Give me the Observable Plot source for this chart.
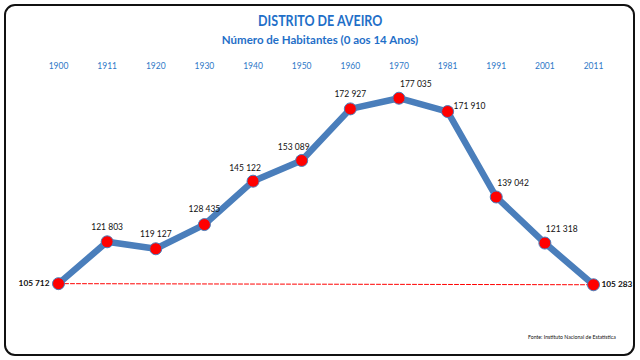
<!DOCTYPE html>
<html>
<head>
<meta charset="utf-8">
<script src="https://cdn.jsdelivr.net/npm/d3@7"></script>
<script src="https://cdn.jsdelivr.net/npm/@observablehq/plot@0.6"></script>
<style>
  html, body { margin: 0; padding: 0; background: #fff; }
  #wrap { position: relative; width: 640px; height: 360px; overflow: hidden; font-family: Lato, "Open Sans", sans-serif; }
  #frame { position: absolute; left: 4px; top: 4px; width: 627px; height: 348px; border: 2px solid #111; border-radius: 11px; box-sizing: content-box; }
  #title { position: absolute; left: 0; width: 640px; top: 12px; text-align: center; color: #1F6FC8; font-weight: bold; font-size: 14.5px; line-height: 18px; }
  #title span { display: inline-block; transform: scaleX(0.86); }
  #subtitle { position: absolute; left: 0; width: 640px; top: 32px; text-align: center; color: #1F6FC8; font-weight: bold; font-size: 11.5px; line-height: 16px; }
  #chart { position: absolute; left: 0; top: 50px; }
  #source { position: absolute; left: 528px; top: 334px; font-size: 5.2px; color: #111; white-space: nowrap; }
</style>
</head>
<body>
<div id="wrap">
  <div id="frame"></div>
  <div id="title"><span>DISTRITO DE AVEIRO</span></div>
  <div id="subtitle">Número de Habitantes (0 aos 14 Anos)</div>
  <div id="chart"></div>
  <div id="source">Fonte: Instituto Nacional de Estatística</div>
</div>
<script>
const years = ["1900","1911","1920","1930","1940","1950","1960","1970","1981","1991","2001","2011"];
const habitantes = [105712, 121803, 119127, 128435, 145122, 153089, 172927, 177035, 171910, 139042, 121318, 105283];

const data = years.map((y, i) => ({year: y, value: habitantes[i]}));
const fmt = v => d3.format(",")(v).replace(/,/g, " ");
const first = data[0], last = data[data.length - 1];
const pick = ys => data.filter(d => ys.includes(d.year));

const lineColor = "#4A7EBB";

const chart = Plot.plot({
  width: 640,
  height: 310,
  marginLeft: 58,
  marginRight: 47,
  marginTop: 40,
  marginBottom: 62,
  style: {fontFamily: "Lato, 'Open Sans', sans-serif", background: "transparent", overflow: "visible"},
  x: {type: "point", domain: years, padding: 0, round: false},
  y: {domain: [100000, 180000], axis: null},
  marks: [
    Plot.axisX({anchor: "top", tickSize: 0, tickPadding: 22, fill: "#2E78C7", fontSize: 8.5, label: null}),
    Plot.line(data, {x: "year", y: "value", stroke: lineColor, strokeWidth: 6.5, strokeLinejoin: "miter"}),
    Plot.line([first, last], {x: "year", y: "value", stroke: "#FF0000", strokeWidth: 1, strokeDasharray: "4,2"}),
    Plot.dot(data, {x: "year", y: "value", r: 6, fill: "#FF0000", stroke: lineColor, strokeWidth: 1}),
    Plot.text(pick(["1911","1920","1930","1960"]), {x: "year", y: "value", text: d => fmt(d.value), dy: -15, fontSize: 8.5, fill: "#111"}),
    Plot.text(pick(["1940","1950"]), {x: "year", y: "value", text: d => fmt(d.value), dy: -13, dx: -8, fontSize: 8.5, fill: "#111"}),
    Plot.text(pick(["1970","1991","2001"]), {x: "year", y: "value", text: d => fmt(d.value), dy: -14, dx: 1, textAnchor: "start", fontSize: 8.5, fill: "#111"}),
    Plot.text(pick(["1981"]), {x: "year", y: "value", text: d => fmt(d.value), dy: -5, dx: 6, textAnchor: "start", fontSize: 8.5, fill: "#111"}),
    Plot.text([first], {x: "year", y: "value", text: d => fmt(d.value), dx: -9, textAnchor: "end", fontSize: 8.3, fontWeight: "bold", fill: "#111"}),
    Plot.text([last], {x: "year", y: "value", text: d => fmt(d.value), dx: 8, textAnchor: "start", fontSize: 8.3, fontWeight: "bold", fill: "#111"})
  ]
});
document.getElementById("chart").appendChild(chart);
</script>
</body>
</html>
